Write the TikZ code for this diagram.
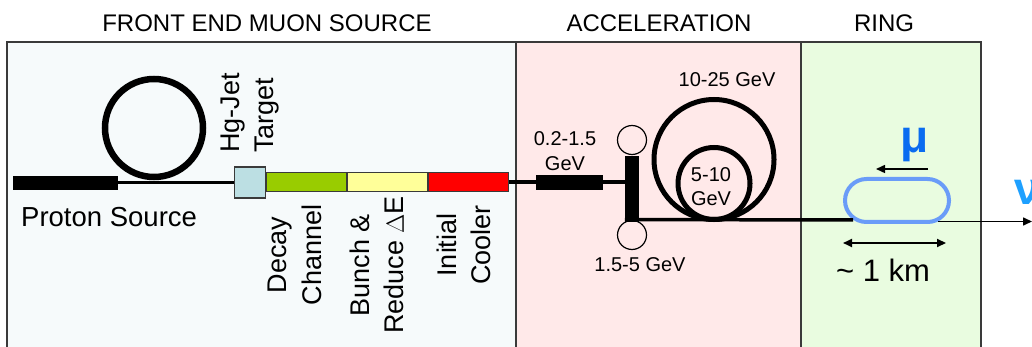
\documentclass[tikz,border=0pt]{standalone}
\usepackage{fontspec}
\setmainfont{Liberation Sans}
\newfontfamily\greekfont{Liberation Sans}
\usetikzlibrary{arrows.meta,shapes.misc}
\definecolor{leftbg}{HTML}{F6FAFB}
\definecolor{accbg}{HTML}{FFE9E9}
\definecolor{ringbg}{HTML}{E9FCE0}
\definecolor{framecol}{HTML}{3A3A3A}
\definecolor{hgfill}{HTML}{BCDFE3}
\definecolor{decayfill}{HTML}{99CC00}
\definecolor{bunchfill}{HTML}{FFFF99}
\definecolor{coolfill}{HTML}{FF0000}
\definecolor{rtblue}{HTML}{6A9CF8}
\definecolor{mublue}{HTML}{0A6CF0}
\definecolor{nublue}{HTML}{1EA0FF}
\begin{document}
\begin{tikzpicture}[x=1pt,y=-1pt,
  framed/.style={draw=framecol,line width=1.4pt},
  title/.style={font=\fontsize{24}{28}\selectfont,inner sep=0pt},
  biglabel/.style={font=\fontsize{27.5}{34.5}\selectfont,inner sep=0pt},
  rotlabel/.style={font=\fontsize{27}{34.5}\selectfont,inner sep=0pt,rotate=90,align=center},
  gevlabel/.style={font=\fontsize{20}{24.5}\selectfont,inner sep=0pt,align=center},
  blackbar/.style={fill=black,draw=black,inner sep=0pt},
  segbox/.style={draw=framecol,line width=1pt,inner sep=0pt,minimum height=19pt,minimum width=80pt},
  ringcirc/.style={circle,draw=black,inner sep=0pt},
  beam/.style={draw=black,line width=3.5pt},
  thinarrow/.style={draw=black,line width=1.5pt,-{Triangle[length=9pt,width=8pt]}},
]
\useasboundingbox (0,0) rectangle (1032,347);
% panels
\fill[leftbg] (7,42) rectangle (516,360);
\fill[accbg] (516,42) rectangle (801,360);
\fill[ringbg] (801,42) rectangle (981,360);
\draw[framed] (7,360) -- (7,42) -- (981,42) -- (981,360);
\draw[framed] (516,42) -- (516,360);
\draw[framed] (801,42) -- (801,360);
% titles
\node[title] (t1) at (267,23) {FRONT END MUON SOURCE};
\node[title] (t2) at (659,23) {ACCELERATION};
\node[title] (t3) at (884,23) {RING};
% proton source
\node[blackbar,minimum width=104pt,minimum height=13pt] (ps) at (65,182.5) {};
\node[ringcirc,line width=6.5pt,minimum size=98pt] (pring) at (154,128) {};
\node[biglabel,anchor=west] (pslabel) at (21,217.5) {Proton Source};
% target and front end
\node[draw=framecol,line width=1.2pt,fill=hgfill,inner sep=0pt,minimum size=31pt] (hg) at (250,182.5) {};
\node[segbox,fill=decayfill,anchor=west] (decay) at (hg.east) {};
\node[segbox,fill=bunchfill,anchor=west] (bunch) at (decay.east) {};
\node[segbox,fill=coolfill,anchor=west] (cool) at (bunch.east) {};
\draw[black,line width=3pt] (ps.east) -- (hg.west);
\node[rotlabel,align=left,anchor=west] (hglabel) at (250,153) {Hg-Jet\\Target};
\node[rotlabel] (decaylabel) at (295,255) {Decay\\Channel};
\node[rotlabel] (bunchlabel) at (377,265) {Bunch \&\\Reduce $\Delta$E};
\node[rotlabel] (coollabel) at (464,245) {Initial\\Cooler};
% acceleration
\node[blackbar,minimum width=66pt,minimum height=14pt] (linac) at (569,182.5) {};
\draw[black,line width=4pt] (cool.east) -- (linac.west);
\node[blackbar,minimum width=13pt,minimum height=65pt] (tbar) at (631.5,188.5) {};
\draw[black,line width=4pt] (linac.east) -- (linac.east -| tbar.west);
\node[ringcirc,line width=1.2pt,minimum size=29pt] (rla1) at (632,140) {};
\node[ringcirc,line width=1.2pt,minimum size=29pt] (rla2) at (632,235) {};
\node[ringcirc,line width=5pt,minimum size=120pt] (big) at (714,159.5) {};
\node[ringcirc,line width=5pt,minimum size=72pt] (small) at (714,183.5) {};
\node[gevlabel] (l1) at (565,151) {0.2-1.5\\GeV};
\node[gevlabel] (l2) at (711,186.5) {5-10\\GeV};
\node[gevlabel] (l3) at (727,80) {10-25 GeV};
\node[gevlabel] (l4) at (640,265) {1.5-5 GeV};
% ring
\node[rounded rectangle,draw=rtblue,line width=4pt,minimum width=104pt,minimum height=43pt,inner sep=0pt] (rt) at (897,200.5) {};
\coordinate (rtin) at (853,219.8);
\coordinate (rtout) at (938,221.5);
\coordinate (nuend) at (1032,221.5);
\draw[beam] ([yshift=1.5pt]tbar.south west) -- (rtin);
\draw[thinarrow] (rtout) -- (nuend);
\coordinate (mua) at (928,169);
\coordinate (mub) at (876,169);
\draw[thinarrow] (mua) -- (mub);
\coordinate (kma) at (843,243);
\coordinate (kmb) at (946,243);
\draw[draw=black,line width=2pt,{Triangle[length=9pt,width=8pt]}-{Triangle[length=9pt,width=8pt]}] (kma) -- (kmb);
\node[font=\fontsize{31}{34}\selectfont,inner sep=0pt] (km) at (883,270) {\textasciitilde{} 1 km};
\node[font=\fontsize{46}{50}\selectfont\bfseries,text=mublue,inner sep=0pt] (mu) at (914.5,145) {μ};
\node[font=\fontsize{46}{50}\selectfont\bfseries,text=nublue,inner sep=0pt,anchor=west] (nu) at (1014,192) {ν};
\end{tikzpicture}
\end{document}
